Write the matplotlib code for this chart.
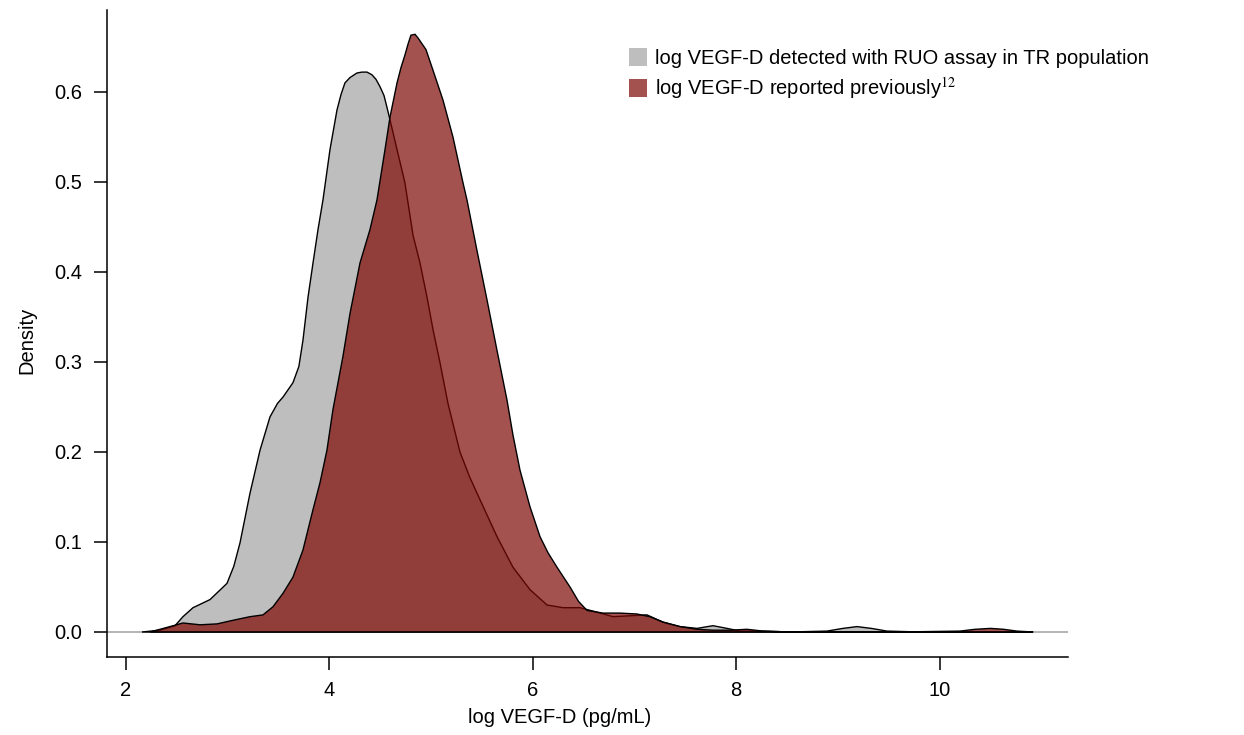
import matplotlib
matplotlib.use("Agg")
import matplotlib.pyplot as plt
from matplotlib.patches import Patch

plt.rcParams["font.family"] = ["Liberation Sans", "DejaVu Sans"]
plt.rcParams["mathtext.fontset"] = "stix"

# density curve of log VEGF-D, RUO assay in TR population
ruo_x = [2.157, 2.334, 2.482, 2.560, 2.659, 2.826, 2.993, 3.060, 3.121, 3.219,
         3.318, 3.416, 3.490, 3.544, 3.642, 3.700, 3.740, 3.790, 3.839, 3.888,
         3.937, 4.006, 4.075, 4.114, 4.153, 4.203, 4.271, 4.320, 4.370, 4.419,
         4.458, 4.497, 4.537, 4.566, 4.596, 4.665, 4.743, 4.822, 4.891, 4.960,
         5.019, 5.088, 5.166, 5.284, 5.380, 5.481, 5.648, 5.805, 5.973, 6.140,
         6.297, 6.464, 6.631, 6.789, 6.956, 7.123, 7.280, 7.447, 7.615, 7.772,
         7.910, 8.037, 8.263, 8.530, 8.893, 9.050, 9.188, 9.330, 9.483, 9.810,
         10.20, 10.50, 10.92]
ruo_y = [0.000, 0.002, 0.007, 0.017, 0.027, 0.036, 0.054, 0.073, 0.099, 0.154,
         0.202, 0.239, 0.254, 0.261, 0.277, 0.295, 0.324, 0.372, 0.410, 0.447,
         0.480, 0.536, 0.580, 0.597, 0.610, 0.616, 0.621, 0.622, 0.622, 0.619,
         0.614, 0.606, 0.596, 0.583, 0.569, 0.536, 0.499, 0.441, 0.410, 0.372,
         0.336, 0.299, 0.254, 0.200, 0.172, 0.147, 0.106, 0.072, 0.047, 0.030,
         0.027, 0.027, 0.022, 0.017, 0.018, 0.019, 0.011, 0.006, 0.004, 0.007,
         0.004, 0.001, 0.001, 0.000, 0.001, 0.004, 0.006, 0.004, 0.001, 0.000,
         0.000, 0.000, 0.000]

# density curve of log VEGF-D reported previously
prev_x = [2.236, 2.433, 2.560, 2.728, 2.895, 3.052, 3.219, 3.347, 3.445, 3.544,
          3.642, 3.740, 3.839, 3.908, 3.976, 4.035, 4.133, 4.203, 4.301, 4.399,
          4.468, 4.547, 4.596, 4.665, 4.704, 4.743, 4.773, 4.802, 4.842, 4.871,
          4.950, 5.019, 5.117, 5.215, 5.314, 5.353, 5.451, 5.550, 5.648, 5.746,
          5.805, 5.874, 5.973, 6.071, 6.150, 6.238, 6.366, 6.450, 6.533, 6.690,
          6.857, 7.025, 7.150, 7.280, 7.447, 7.615, 7.772, 7.940, 8.106, 8.263,
          8.530, 9.600, 10.20, 10.35, 10.50, 10.63, 10.76, 10.92]
prev_y = [0.000, 0.006, 0.010, 0.008, 0.009, 0.013, 0.017, 0.019, 0.028, 0.043,
          0.061, 0.091, 0.136, 0.166, 0.202, 0.247, 0.306, 0.354, 0.410, 0.447,
          0.480, 0.536, 0.572, 0.610, 0.627, 0.641, 0.653, 0.663, 0.664, 0.660,
          0.647, 0.624, 0.591, 0.550, 0.499, 0.480, 0.424, 0.369, 0.313, 0.258,
          0.219, 0.180, 0.139, 0.106, 0.088, 0.072, 0.050, 0.034, 0.024, 0.021,
          0.021, 0.020, 0.017, 0.011, 0.006, 0.003, 0.002, 0.002, 0.003, 0.001,
          0.000, 0.000, 0.001, 0.003, 0.004, 0.003, 0.001, 0.000]

x_ticks = [2, 4, 6, 8, 10]
y_ticks = [0.0, 0.1, 0.2, 0.3, 0.4, 0.5, 0.6]
labels = ["log VEGF-D detected with RUO assay in TR population",
          "log VEGF-D reported previously$^{12}$"]

grey = (190 / 255, 190 / 255, 190 / 255)
red = (126 / 255, 8 / 255, 4 / 255, 0.7)
fs = 14.5

fig = plt.figure(figsize=(12.44, 7.35), dpi=100)
ax = fig.add_axes([0.086, 0.1061, 0.7725, 0.8803])

ax.axhline(0, color="#a0a0a0", lw=1.1, zorder=1)
ax.fill(ruo_x, ruo_y, facecolor=grey, edgecolor="black", lw=1.0, zorder=2)
ax.fill(prev_x, prev_y, facecolor=red, edgecolor="black", lw=1.0, zorder=3)

ax.set_xlim(1.813, 11.263)
ax.set_ylim(-0.0278, 0.691)
ax.set_xticks(x_ticks)
ax.set_yticks(y_ticks)
ax.set_yticklabels([f"{v:.1f}" for v in y_ticks])

for side in ["top", "right"]:
    ax.spines[side].set_visible(False)
for side in ["left", "bottom"]:
    ax.spines[side].set_linewidth(1.1)
ax.tick_params(axis="both", labelsize=fs, length=9.5, width=1.1, direction="out")
ax.tick_params(axis="x", pad=7.5)
ax.tick_params(axis="y", pad=8.5)

ax.set_xlabel("log VEGF-D (pg/mL)", fontsize=fs)
ax.set_ylabel("Density", fontsize=fs)
ax.xaxis.set_label_coords(0.471, -0.094)
ax.xaxis.label.set_va("center")
ax.yaxis.set_label_coords(-0.083, 0.49)
ax.yaxis.label.set_va("center")

handles = [Patch(facecolor=grey, edgecolor="none"),
           Patch(facecolor=red, edgecolor="none")]
fig.legend(handles, labels, loc="upper left",
           bbox_to_anchor=(629 / 1244, 1 - 48 / 735),
           frameon=False, fontsize=fs, handlelength=0.9, handleheight=1.0,
           handletextpad=0.4, labelspacing=0.38, borderpad=0, borderaxespad=0)

fig.savefig("out.png", dpi=100)
